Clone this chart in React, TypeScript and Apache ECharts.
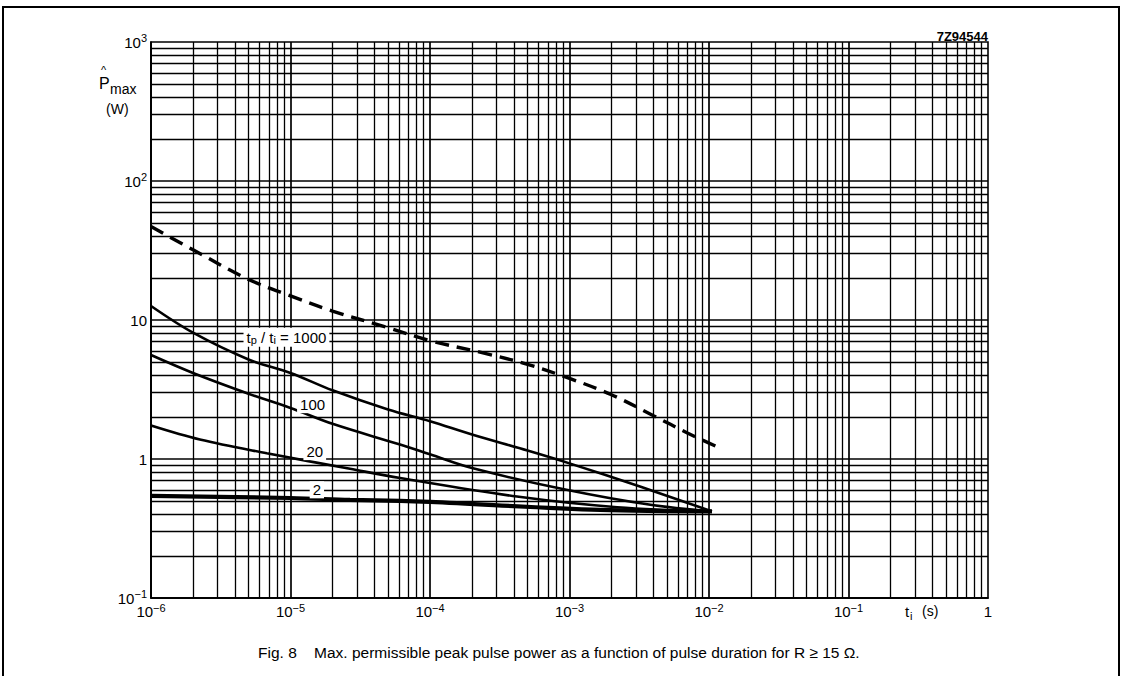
import React, { useEffect, useRef } from "react";
import * as echarts from "echarts";

// ---- data ----
const gridMultipliers = [1, 2, 3, 4, 5, 6, 7, 8, 9];
const xDecades = [-6, -5, -4, -3, -2, -1];
const yDecades = [-1, 0, 1, 2];

// dashed curve (single pulse)
const curveDashed: [number, number][] = [
  [1e-6, 47], [2e-6, 32], [5e-6, 19.6], [1e-5, 14.9], [2e-5, 11.6], [5e-5, 8.8],
  [1e-4, 7.1], [2.4e-4, 5.8], [5e-4, 4.8], [1e-3, 3.8], [2e-3, 2.9], [4e-3, 2.05],
  [7e-3, 1.54], [1.15e-2, 1.22],
];
// tp/ti = 1000
const curve1000: [number, number][] = [
  [1e-6, 12.6], [2e-6, 8.1], [5e-6, 5.2], [1e-5, 4.16], [2e-5, 3.12], [5e-5, 2.27],
  [1e-4, 1.87], [2e-4, 1.5], [5e-4, 1.15], [1e-3, 0.93], [3.2e-3, 0.634], [1.05e-2, 0.42],
];
// tp/ti = 100
const curve100: [number, number][] = [
  [1e-6, 5.6], [2e-6, 4.16], [5e-6, 2.95], [1e-5, 2.33], [2e-5, 1.79], [6.1e-5, 1.27],
  [1e-4, 1.08], [2e-4, 0.86], [9.5e-4, 0.6], [3.8e-3, 0.468], [1.05e-2, 0.42],
];
// tp/ti = 20
const curve20: [number, number][] = [
  [1e-6, 1.74], [2.24e-6, 1.38], [6.76e-6, 1.1], [2.67e-5, 0.85], [6.1e-5, 0.73],
  [4.2e-4, 0.537], [2.2e-3, 0.45], [1.05e-2, 0.42],
];
// tp/ti = 2
const curve2: [number, number][] = [
  [1e-6, 0.543], [1e-5, 0.524], [2.67e-5, 0.508], [6.1e-5, 0.5], [1e-4, 0.491],
  [1.66e-3, 0.43], [1.05e-2, 0.42],
];

const labelTexts = ["{a|t}{sb|p}{a| / t}{sb|i}{a| = 1000}", "100", "20", "2"];
const figureCode = "7Z94544";
const captionText =
  "Fig. 8    Max. permissible peak pulse power as a function of pulse duration for R \u2265 15 \u03A9.";

const FONT = "Liberation Sans, Arial, sans-serif";

function supLabel(v: number, plainUpTo: number) {
  const e = Math.round(Math.log10(v));
  if (e >= 0 && e <= plainUpTo) return e === 0 ? "{b|1}" : "{b|10}";
  return `{b|10}{s|${e < 0 ? "\u2212" : ""}${Math.abs(e)}}`;
}

const richSup = {
  b: { fontSize: 15, lineHeight: 19, fontFamily: FONT, color: "#000" },
  s: { fontSize: 11, lineHeight: 9, verticalAlign: "top", fontFamily: FONT, color: "#000" },
};

export default function App() {
  const ref = useRef<HTMLDivElement>(null);
  useEffect(() => {
    document.body.style.margin = "0";
    if (!ref.current) return;
    const chart = echarts.init(ref.current, undefined, { renderer: "svg" });

    const vLines: any[] = [];
    xDecades.forEach((d) =>
      gridMultipliers.forEach((m) => {
        const v = m * Math.pow(10, d);
        vLines.push({ xAxis: v, lineStyle: { width: m === 1 ? 1.7 : 1.3 } });
      })
    );
    const hLines: any[] = [];
    yDecades.forEach((d) =>
      gridMultipliers.forEach((m) => {
        const v = m * Math.pow(10, d);
        hLines.push({ yAxis: v, lineStyle: { width: m === 1 ? 1.7 : 1.3 } });
      })
    );

    const curveSeries = (
      data: [number, number][],
      width: number,
      dashed: boolean,
      label?: { text: string; coord: [number, number] }
    ) => ({
      type: "line",
      data,
      symbol: "none",
      smooth: 0.35,
      z: 3,
      color: "#000",
      itemStyle: { color: "#000" },
      lineStyle: { color: "#000", width, type: dashed ? [14, 8] : "solid", cap: "butt" },
      markPoint: label
        ? {
            z: 10,
            symbol: "rect",
            symbolSize: 0,
            silent: true,
            itemStyle: { color: "#000" },
            label: {
              show: true,
              position: "left",
              distance: 0,
              color: "#000",
              fontFamily: FONT,
              fontSize: 15,
              backgroundColor: "#fff",
              padding: [1, 3, 1, 3],
              formatter: label.text,
              rich: {
                a: { fontSize: 15, fontFamily: FONT, color: "#000", lineHeight: 17 },
                sb: { fontSize: 11, fontFamily: FONT, color: "#000", lineHeight: 10, verticalAlign: "bottom" },
              },
            },
            data: [{ coord: label.coord }],
          }
        : undefined,
    });

    const option: any = {
      animation: false,
      backgroundColor: "#fff",
      color: ["#000"],
      grid: { left: 151, right: 137, top: 42, bottom: 78, show: true, borderColor: "#000", borderWidth: 1.6 },
      xAxis: {
        type: "log",
        logBase: 10,
        min: 1e-6,
        max: 1,
        splitLine: { show: false },
        axisTick: { show: false },
        axisLine: { show: true, lineStyle: { color: "#000", width: 1.6 } },
        axisLabel: {
          margin: 4,
          showMinLabel: true,
          showMaxLabel: true,
          formatter: (v: number) => supLabel(v, 0),
          rich: richSup,
        },
      },
      yAxis: {
        type: "log",
        logBase: 10,
        min: 0.1,
        max: 1000,
        splitLine: { show: false },
        axisTick: { show: false },
        axisLine: { show: true, lineStyle: { color: "#000", width: 1.6 } },
        axisLabel: {
          margin: 4,
          showMinLabel: true,
          showMaxLabel: true,
          formatter: (v: number) => supLabel(v, 1),
          rich: richSup,
        },
      },
      series: [
        {
          type: "line",
          data: [],
          z: 1,
          markLine: {
            z: 1,
            silent: true,
            precision: 12,
            symbol: ["none", "none"],
            label: { show: false },
            lineStyle: { color: "#000", type: "solid", width: 1.3 },
            data: [...vLines, ...hLines],
          },
        },
        curveSeries(curveDashed, 3.4, true),
        curveSeries(curve1000, 2.6, false, { text: labelTexts[0], coord: [1.9e-5, 7.5] }),
        curveSeries(curve100, 2.6, false, { text: labelTexts[1], coord: [1.86e-5, 2.46] }),
        curveSeries(curve20, 2.6, false, { text: labelTexts[2], coord: [1.8e-5, 1.13] }),
        curveSeries(curve2, 4.2, false, { text: labelTexts[3], coord: [1.74e-5, 0.6] }),
      ],
      graphic: [
        {
          type: "rect",
          shape: { x: 3, y: 7, width: 1116, height: 700 },
          style: { fill: "none", stroke: "#000", lineWidth: 2 },
          silent: true,
        },
        { type: "text", x: 101, y: 70, style: { text: "^", font: `11px ${FONT}`, fill: "#000", textVerticalAlign: "middle" } },
        { type: "text", x: 99, y: 83, style: { text: "P", font: `16px ${FONT}`, fill: "#000", textVerticalAlign: "middle" } },
        { type: "text", x: 110, y: 89, style: { text: "max", font: `14px ${FONT}`, fill: "#000", textVerticalAlign: "middle" } },
        { type: "text", x: 106, y: 109, style: { text: "(W)", font: `14px ${FONT}`, fill: "#000", textVerticalAlign: "middle" } },
        { type: "text", x: 905, y: 611, style: { text: "t", font: `15px ${FONT}`, fill: "#000", textVerticalAlign: "middle" } },
        { type: "text", x: 910, y: 616, style: { text: "i", font: `11px ${FONT}`, fill: "#000", textVerticalAlign: "middle" } },
        { type: "text", x: 922, y: 611, style: { text: "(s)", font: `14px ${FONT}`, fill: "#000", textVerticalAlign: "middle" } },
        {
          type: "text",
          x: 988,
          y: 36,
          style: { text: figureCode, font: `bold 13px ${FONT}`, fill: "#000", textAlign: "right", textVerticalAlign: "middle" },
        },
        {
          type: "text",
          x: 258,
          y: 652,
          style: { text: captionText, font: `15.5px ${FONT}`, fill: "#000", textVerticalAlign: "middle" },
        },
      ],
    };
    chart.setOption(option);
    return () => chart.dispose();
  }, []);
  return <div ref={ref} style={{ width: 1125, height: 676 }} />;
}
